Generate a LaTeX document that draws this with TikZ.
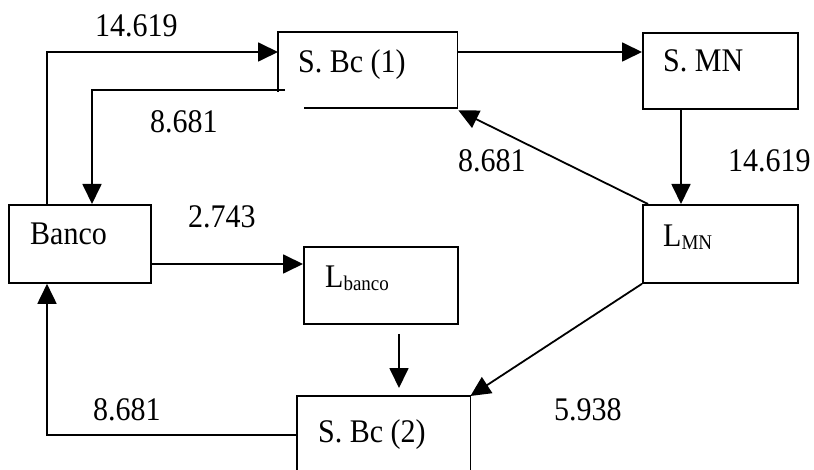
\documentclass[tikz,border=0pt]{standalone}
\usepackage{fontspec}
\usepackage{graphicx}
\setmainfont{Liberation Serif}
\usetikzlibrary{arrows.meta,calc}
\tikzset{
  box/.style={draw, line width=1.8pt, rectangle, inner sep=0pt, anchor=north west},
  hbox/.style={rectangle, inner sep=0pt, anchor=north west},
  txt/.style={inner sep=0pt, anchor=base west, font=\fontsize{30}{34}\selectfont},
  flow/.style={line width=1.8pt, -{Triangle[length=20pt,width=19pt]}},
  edge/.style={line width=1.8pt},
}
\newcommand{\tallt}[1]{\scalebox{1}[1.1]{#1}}
\newcommand{\subtxt}[1]{{\fontsize{19}{20}\selectfont\raisebox{-2pt}{#1}}}
\begin{document}
\begin{tikzpicture}[x=1pt,y=-1pt]
\useasboundingbox (0,0) rectangle (814,470);
% boxes
\node[box, minimum width=142pt, minimum height=78pt] (banco) at (8,204) {};
\node[hbox, minimum width=179pt, minimum height=76pt] (sbc1) at (278,32) {};
\node[box, minimum width=155pt, minimum height=76pt] (smn) at (642,32) {};
\node[box, minimum width=155pt, minimum height=78pt] (lmn) at (642,204) {};
\node[box, minimum width=154pt, minimum height=77pt] (lbanco) at (303,246) {};
\node[hbox, minimum width=173pt, minimum height=74pt] (sbc2) at (297,396) {};
% partial outlines
\draw[edge] ($(sbc1.north west)+(0,60)$) -- (sbc1.north west) -- (sbc1.north east) -- (sbc1.south east) -- ($(sbc1.south west)+(26,0)$);
\draw[edge] (sbc2.south west) -- (sbc2.north west) -- (sbc2.north east) -- (sbc2.south east);
% box texts
\node[txt] (tbanco) at (30,245) {\tallt{Banco}};
\node[txt] (tsbc1) at (298,73) {\tallt{S. Bc (1)}};
\node[txt] (tsmn) at (663,72) {\tallt{S. MN}};
\node[txt] (tlmn) at (663,247) {\tallt{L\subtxt{MN}}};
\node[txt] (tlbanco) at (325,288) {\tallt{L\subtxt{banco}}};
\node[txt] (tsbc2) at (318,442) {\tallt{S. Bc (2)}};
% connectors
\coordinate (c1) at ($(banco.north west)+(39,0)$);
\draw[flow] (c1) |- ($(sbc1.north west)+(0,20)$);
\coordinate (c2) at ($(sbc1.north west)+(7,58)$);
\draw[flow] (c2) -| ($(banco.north west)+(84,0)$);
\draw[flow] ($(sbc1.north east)+(0,20)$) -- ($(smn.north west)+(0,20)$);
\draw[flow] ($(smn.south west)+(39,0)$) -- ($(lmn.north west)+(39,0)$);
\draw[flow] ($(lmn.north west)+(6,0)$) -- ($(sbc1.south east)+(1,2)$);
\draw[flow] ($(banco.north east)+(0,60)$) -- ($(lbanco.north west)+(0,18)$);
\draw[flow] ($(lbanco.south west)+(96,9)$) -- ($(sbc2.north west)+(102,-8)$);
\draw[flow] (lmn.south west) -- (sbc2.north east);
\draw[flow] ($(sbc2.north west)+(0,39)$) -| ($(banco.south west)+(39,0)$);
% flow labels
\node[txt] (l1) at (95,37) {\tallt{14.619}};
\node[txt] (l2) at (150,133) {\tallt{8.681}};
\node[txt] (l3) at (188,228) {\tallt{2.743}};
\node[txt] (l4) at (458,172) {\tallt{8.681}};
\node[txt] (l5) at (728,172) {\tallt{14.619}};
\node[txt] (l6) at (93,420) {\tallt{8.681}};
\node[txt] (l7) at (554,420) {\tallt{5.938}};
\end{tikzpicture}
\end{document}
